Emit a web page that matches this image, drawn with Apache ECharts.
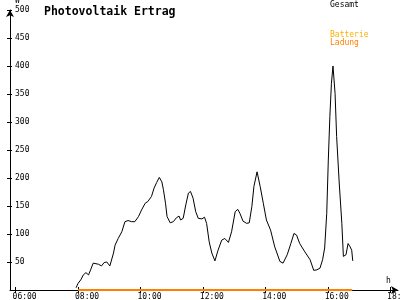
<!DOCTYPE html>
<html><head><meta charset="utf-8">
<script src="https://cdn.jsdelivr.net/npm/echarts@6/dist/echarts.min.js"></script>
<style>html,body{margin:0;padding:0;background:#fff}#c{width:400px;height:300px}</style>
</head><body><div id="c"></div>
<script>
// time in minutes after midnight
var gesamtTime = [476,480,485,490,495,500,504,509,512,519,525,530,535,541,548,551,557,564,570,576,583,589,596,602,609,614,617,621,626,631,636,641,644,648,651,657,663,669,674,677,682,687,692,696,701,706,711,718,723,727,732,737,743,749,756,762,769,775,782,787,791,797,804,809,814,818,824,830,836,842,850,858,868,874,882,889,895,900,906,916,926,933,939,945,950,954,958,961,964,967,970,974,977,982,987,990,995,999,1003,1006,1008];
var gesamtValue = [4,12,18,27,31,27,36,48,50,46,43,49,50,43,66,80,92,104,122,124,122,122,131,143,155,158,158,167,182,192,201,193,179,155,131,120,122,129,132,125,128,152,173,176,164,140,128,127,130,119,86,66,52,71,89,92,85,104,140,144,137,123,119,120,149,185,211,185,155,125,107,77,51,48,63,83,101,98,83,68,54,35,36,39,54,75,137,232,310,369,400,351,274,191,119,60,63,83,77,71,52];
var ladungTime = [480,1007];
var ladungValue = [0,0];
var xTicks = [360,480,600,720,840,960,1080];
var yTicks = [50,100,150,200,250,300,350,400,450,500];

function hhmm(m){var h=Math.floor(m/60),mm=m%60;return (h<10?'0':'')+h+':'+(mm<10?'0':'')+mm;}
var F = 'DejaVu Sans Mono';
var chart = echarts.init(document.getElementById('c'), null, {renderer:'canvas'});
var xBase = {type:'value',min:349,max:1095,position:'bottom',splitLine:{show:false}};
var yBase = {type:'value',min:0,max:500,position:'left',splitLine:{show:false}};
chart.setOption({
  animation:false,
  backgroundColor:'#fff',
  title:{text:'Photovoltaik Ertrag',left:39,top:1,textStyle:{fontFamily:F,fontSize:11.5,fontWeight:'bold',color:'#000'}},
  grid:{left:10,right:2,top:10,bottom:10,containLabel:false,outerBoundsMode:'none'},
  xAxis:[
    Object.assign({},xBase,{
      axisLine:{show:true,lineStyle:{color:'#000',width:1},symbol:['none','arrow'],symbolSize:[6,7]},
      axisTick:{show:true,length:3,lineStyle:{color:'#000'},customValues:xTicks},
      axisLabel:{show:true,customValues:xTicks.map(function(v){return v-6;}),formatter:function(v){return hhmm(v+6);},align:'left',margin:3,fontFamily:F,fontSize:8,color:'#000'}
    }),
    Object.assign({},xBase,{
      axisLine:{show:false},
      axisTick:{show:true,inside:true,length:3,lineStyle:{color:'#000'},customValues:xTicks},
      axisLabel:{show:false}
    })
  ],
  yAxis:[
    Object.assign({},yBase,{
      axisLine:{show:true,lineStyle:{color:'#000',width:1},symbol:['none','arrow'],symbolSize:[6,7]},
      axisTick:{show:true,length:3,lineStyle:{color:'#000'},customValues:yTicks},
      axisLabel:{show:true,inside:true,margin:5,customValues:yTicks,fontFamily:F,fontSize:8,color:'#000'}
    }),
    Object.assign({},yBase,{
      axisLine:{show:false},
      axisTick:{show:true,inside:true,length:2,lineStyle:{color:'#000'},customValues:yTicks},
      axisLabel:{show:false}
    })
  ],
  graphic:[
    {type:'text',left:15,top:-3,style:{text:'W',font:'8px "DejaVu Sans Mono"',fill:'#000'}},
    {type:'text',left:386,top:277,style:{text:'h',font:'8px "DejaVu Sans Mono"',fill:'#000'}},
    {type:'text',left:330,top:1,style:{text:'Gesamt',font:'8px "DejaVu Sans Mono"',fill:'#000'}},
    {type:'text',left:330,top:31,style:{text:'Batterie',font:'8px "DejaVu Sans Mono"',fill:'#ffb000'}},
    {type:'text',left:330,top:39,style:{text:'Ladung',font:'8px "DejaVu Sans Mono"',fill:'#ff8000'}}
  ],
  series:[
    {type:'line',name:'Ladung',xAxisIndex:0,yAxisIndex:0,showSymbol:false,data:ladungTime.map(function(t,i){return [t,ladungValue[i]];}),lineStyle:{color:'#ff8000',width:2},z:3},
    {type:'line',name:'Gesamt',xAxisIndex:0,yAxisIndex:0,showSymbol:false,data:gesamtTime.map(function(t,i){return [t,gesamtValue[i]];}),lineStyle:{color:'#000',width:1},z:4}
  ]
});
</script></body></html>
